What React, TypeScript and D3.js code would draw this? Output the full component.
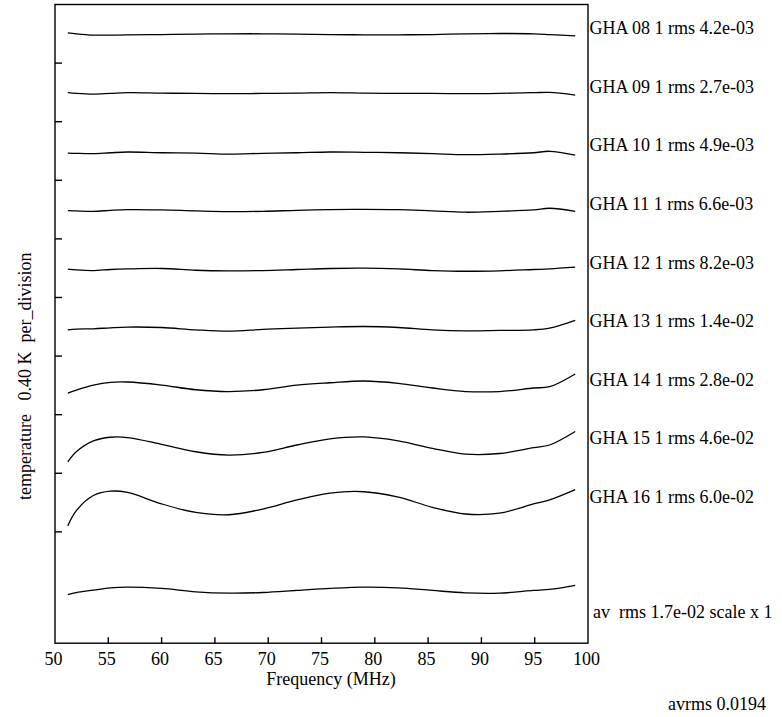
import React from "react";
import * as d3 from "d3";

// Frequency grid (MHz) at which residuals were read
const freqs = [51.2, 52.0, 53.6, 55.2, 56.8, 60.0, 63.2, 66.3, 69.5, 72.7, 75.8, 79.0, 82.2, 85.4, 88.5, 91.7, 94.9, 96.4, 98.8];

// Residuals (K) for each GHA
const gha08 = [0.007, 0, -0.009, -0.009, -0.007, -0.005, -0.002, 0, 0, -0.002, -0.005, -0.007, -0.007, -0.005, 0, 0.002, 0, -0.005, -0.014];
const gha09 = [-0.002, -0.007, -0.012, -0.007, -0.002, -0.005, -0.007, -0.009, -0.007, -0.005, -0.002, -0.005, -0.007, -0.007, -0.009, -0.007, -0.002, 0, -0.018];
const gha10 = [-0.014, -0.016, -0.018, -0.012, -0.007, -0.012, -0.014, -0.021, -0.016, -0.012, -0.007, -0.009, -0.012, -0.018, -0.025, -0.021, -0.012, -0.002, -0.028];
const gha11 = [-0.007, -0.009, -0.012, -0.005, 0, -0.002, -0.009, -0.014, -0.012, -0.005, 0, 0.002, 0, -0.009, -0.018, -0.012, -0.002, 0.009, -0.012];
const gha12 = [-0.007, -0.012, -0.016, -0.009, -0.005, -0.002, -0.014, -0.018, -0.016, -0.009, -0.002, 0, -0.005, -0.016, -0.021, -0.018, -0.009, -0.005, 0.007];
const gha13 = [-0.021, -0.016, -0.014, -0.007, -0.002, -0.005, -0.021, -0.030, -0.018, -0.009, -0.002, 0.002, -0.005, -0.021, -0.028, -0.025, -0.021, -0.009, 0.044];
const gha14 = [-0.053, -0.032, 0.002, 0.021, 0.023, 0.002, -0.030, -0.042, -0.030, 0.002, 0.018, 0.030, 0.014, -0.018, -0.042, -0.042, -0.018, -0.009, 0.078];
const gha15 = [-0.122, -0.053, 0.021, 0.046, 0.044, -0.002, -0.053, -0.076, -0.058, -0.007, 0.035, 0.048, 0.021, -0.030, -0.069, -0.065, -0.025, -0.007, 0.085];
const gha16 = [-0.159, -0.055, 0.048, 0.078, 0.069, -0.009, -0.067, -0.083, -0.044, 0.018, 0.065, 0.074, 0.037, -0.032, -0.078, -0.072, -0.009, 0.018, 0.088];
const avg = [-0.028, -0.014, 0.002, 0.018, 0.023, 0.014, -0.009, -0.018, -0.014, 0, 0.014, 0.023, 0.018, 0, -0.016, -0.018, 0, 0.007, 0.035];

const seriesValues = [gha08, gha09, gha10, gha11, gha12, gha13, gha14, gha15, gha16];
const seriesLabels = [
  "GHA 08 1 rms 4.2e-03",
  "GHA 09 1 rms 2.7e-03",
  "GHA 10 1 rms 4.9e-03",
  "GHA 11 1 rms 6.6e-03",
  "GHA 12 1 rms 8.2e-03",
  "GHA 13 1 rms 1.4e-02",
  "GHA 14 1 rms 2.8e-02",
  "GHA 15 1 rms 4.6e-02",
  "GHA 16 1 rms 6.0e-02",
];
const avLabel = "av  rms 1.7e-02 scale x 1";
const avrmsLabel = "avrms 0.0194";
const xTicks = [50, 55, 60, 65, 70, 75, 80, 85, 90, 95, 100];
const yTicks = [1, 2, 3, 4, 5, 6, 7, 8, 9];
const perDivision = 0.4; // K per division
const xLabel = "Frequency (MHz)";
const yLabel = "temperature   0.40 K  per_division";

const FONT = "'Liberation Serif', 'Times New Roman', Times, serif";

export default function App() {
  const W = 782;
  const H = 717;
  const x = d3.scaleLinear().domain([50, 100]).range([55, 588]);
  const y = d3.scaleLinear().domain([0, 10.9]).range([4.5, 643.2]); // divisions from top

  const line = (vals: number[], offset: number) =>
    d3
      .line<number>()
      .x((_, i) => x(freqs[i]))
      .y((v) => y(offset - v / perDivision))
      .curve(d3.curveCatmullRom.alpha(0.5))(vals) || "";

  const x0 = x(50), x1 = x(100), y0 = y(0), y1 = y(10.9);

  return (
    <svg
      width={W}
      height={H}
      style={{ position: "absolute", left: 0, top: 0, background: "#fff" }}
      fontFamily={FONT}
    >
      <rect x={0} y={0} width={W} height={H} fill="#fff" />
      {/* frame */}
      <rect x={x0} y={y0} width={x1 - x0} height={y1 - y0} fill="none" stroke="#000" strokeWidth={1.4} />
      {/* y ticks */}
      {yTicks.map((t) => (
        <line key={"yt" + t} x1={x0} x2={x0 + 7} y1={y(t)} y2={y(t)} stroke="#000" strokeWidth={1.4} />
      ))}
      {/* x ticks */}
      {xTicks.slice(1, -1).map((t) => (
        <line key={"xt" + t} x1={x(t)} x2={x(t)} y1={y1} y2={y1 - 6} stroke="#000" strokeWidth={1.4} />
      ))}
      {xTicks.map((t) => (
        <text key={"xl" + t} x={x(t) - 1.5} y={664.5} fontSize={18} textAnchor="middle" fill="#000">
          {t}
        </text>
      ))}
      <text x={331} y={685} fontSize={18} textAnchor="middle" fill="#000">
        {xLabel}
      </text>
      <text
        transform="translate(31,500) rotate(-90)"
        fontSize={18}
        textAnchor="start"
        fill="#000"
        style={{ whiteSpace: "pre" }}
      >
        {yLabel}
      </text>
      {/* series */}
      {seriesValues.map((vals, i) => (
        <path key={"s" + i} d={line(vals, i + 0.5)} fill="none" stroke="#000" strokeWidth={1.3} />
      ))}
      <path d={line(avg, 10)} fill="none" stroke="#000" strokeWidth={1.3} />
      {seriesLabels.map((lab, i) => (
        <text key={"l" + i} x={589.5} y={y(i + 0.5) + 0.5} fontSize={18} fill="#000" style={{ whiteSpace: "pre" }}>
          {lab}
        </text>
      ))}
      <text x={593} y={y(10.47)} fontSize={18} fill="#000" style={{ whiteSpace: "pre" }}>
        {avLabel}
      </text>
      <text x={668} y={710} fontSize={18} fill="#000">
        {avrmsLabel}
      </text>
    </svg>
  );
}
